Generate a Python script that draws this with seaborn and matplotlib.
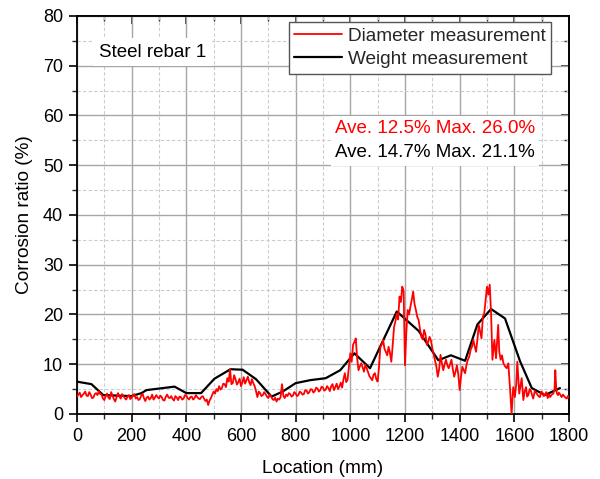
import numpy as np
import pandas as pd
import matplotlib
matplotlib.use("Agg")
import matplotlib.pyplot as plt
import seaborn as sns
from matplotlib.ticker import MultipleLocator

# ---------------- data ----------------
# diameter measurement: 5 mm sampling up to 1480 mm, then irregular points
diam_loc_head = list(range(0, 1481, 5))
diam_val_head = [
    3.5, 3.9, 4.3, 3.4, 3.8, 4.1, 4.5, 3.7, 3.6, 4.4,
    3.9, 3.2, 3.3, 4.0, 4.2, 3.8, 4.6, 4.0, 3.9, 3.1,
    2.8, 3.6, 4.1, 3.3, 3.0, 4.4, 3.7, 3.0, 2.5, 3.4,
    4.2, 3.5, 3.1, 4.0, 3.6, 3.2, 2.9, 3.5, 3.8, 3.0,
    3.3, 3.8, 4.0, 3.1, 3.4, 2.8, 3.0, 3.7, 4.1, 3.2,
    2.6, 3.3, 3.5, 2.9, 3.2, 3.9, 2.9, 3.3, 3.8, 3.4,
    3.1, 3.7, 3.4, 2.8, 2.7, 3.5, 3.9, 3.3, 3.2, 3.6,
    3.0, 2.7, 3.6, 3.3, 2.8, 3.5, 3.4, 2.9, 3.1, 3.8,
    3.7, 3.2, 2.9, 3.4, 3.5, 2.9, 3.2, 3.8, 3.4, 3.1,
    3.0, 3.4, 3.6, 3.1, 2.6, 2.9, 1.8, 2.7, 3.2, 3.9,
    4.5, 4.1, 5.0, 4.6, 5.6, 4.9, 5.2, 6.1, 6.0, 5.4,
    7.2, 6.5, 9.0, 6.0, 6.2, 7.8, 7.0, 5.9, 6.4, 7.1,
    5.6, 6.3, 7.4, 6.1, 6.8, 7.5, 6.4, 5.8, 7.0, 6.2,
    5.6, 4.6, 3.4, 4.5, 4.2, 3.6, 3.8, 4.4, 4.0, 3.5,
    3.2, 3.9, 3.6, 3.0, 2.8, 3.3, 2.5, 3.1, 2.9, 3.4,
    6.0, 3.7, 3.2, 3.9, 3.6, 4.2, 4.0, 3.5, 3.7, 4.4,
    4.1, 3.6, 3.8, 4.5, 4.3, 3.9, 4.0, 4.8, 4.7, 4.1,
    4.4, 5.0, 4.9, 4.3, 4.6, 5.3, 5.1, 4.5, 4.8, 5.5,
    5.3, 4.7, 4.9, 5.6, 5.2, 4.6, 5.6, 6.0, 4.8, 5.4,
    6.1, 5.0, 5.5, 6.3, 5.3, 7.0, 8.2, 6.4, 6.9, 9.5,
    12.2, 10.5, 13.9, 14.5, 15.2, 11.2, 8.8, 9.6, 10.2, 9.4,
    8.5, 9.9, 9.2, 8.4, 7.6, 7.2, 6.8, 7.9, 8.2, 7.0,
    6.5, 9.5, 13.5, 14.0, 14.9, 13.1, 12.5, 11.8, 13.5, 12.3,
    10.5, 13.8, 17.5, 18.6, 20.2, 19.0, 23.6, 22.5, 25.6, 24.8,
    9.8, 16.5, 20.9, 20.0, 21.6, 23.0, 24.6, 22.1, 20.9, 19.5,
    18.9, 17.0, 15.5, 15.0, 16.9, 16.0, 13.9, 14.5, 15.5, 14.8,
    13.2, 12.0, 10.8, 9.5, 7.5, 9.0, 11.9, 10.2, 8.8, 10.0,
    10.9, 9.8, 9.2, 10.0, 10.9, 9.0, 7.5, 8.5, 9.8, 8.0,
    4.8, 7.5, 9.5, 8.8, 8.2, 9.9, 10.9, 11.5, 12.9, 13.5,
    14.9, 13.6, 12.5, 15.0, 17.9, 16.5, 15.2]
diam_loc_tail = [1485, 1490, 1495, 1500, 1505, 1510, 1515, 1520, 1527, 1533,
                 1541, 1545, 1550, 1555, 1560, 1566, 1572, 1578, 1584, 1590,
                 1596, 1602, 1607, 1611, 1618, 1622, 1627, 1633, 1638, 1643,
                 1647, 1651, 1656, 1660, 1665, 1669, 1675, 1682, 1688, 1694,
                 1698, 1703, 1708, 1712, 1717, 1722, 1727, 1731, 1737, 1743,
                 1747, 1750, 1753, 1756, 1760, 1763, 1768, 1773, 1778, 1782,
                 1787, 1792, 1796, 1800]
diam_val_tail = [19.6, 20.2, 22.9, 25.6, 24.0, 26.0, 20.2, 10.9, 14.9, 11.2,
                 17.9, 12.5, 10.9, 11.8, 10.2, 9.6, 9.2, 10.2, 5.4, 0.0,
                 5.4, 3.4, 6.0, 10.5, 4.1, 5.5, 7.2, 2.8, 4.6, 5.4,
                 3.5, 3.8, 5.0, 4.8, 3.8, 3.1, 4.6, 4.1, 3.6, 3.4,
                 4.5, 4.3, 3.6, 3.8, 4.4, 3.2, 4.0, 3.4, 3.9, 4.1,
                 5.0, 8.8, 5.5, 4.1, 3.8, 4.3, 3.9, 3.4, 3.9, 3.6,
                 3.3, 3.1, 3.6, 3.3]
diam_loc = diam_loc_head + diam_loc_tail
diam_val = diam_val_head + diam_val_tail

weight_loc = [0, 53, 96, 199, 236, 254, 357, 400, 454, 503, 562, 606, 655,
              712, 752, 800, 853, 910, 963, 1015, 1072, 1170, 1250, 1322,
              1368, 1420, 1465, 1515, 1566, 1621, 1664, 1712, 1767]
weight_val = [6.5, 6.0, 3.8, 3.6, 4.2, 4.8, 5.5, 4.2, 4.2, 7.1, 9.0, 8.9, 7.0,
              3.5, 4.5, 6.2, 6.8, 7.2, 8.8, 12.2, 9.2, 20.6, 16.7, 10.8,
              11.8, 10.7, 18.0, 21.1, 19.2, 10.6, 5.2, 3.8, 5.2]

legend_labels = ["Diameter measurement", "Weight measurement"]
sample_name = "Steel rebar 1"
stats_diam = "Ave. 12.5% Max. 26.0%"
stats_weight = "Ave. 14.7% Max. 21.1%"

df_d = pd.DataFrame({"Location (mm)": diam_loc, "Corrosion ratio (%)": diam_val})
df_w = pd.DataFrame({"Location (mm)": weight_loc, "Corrosion ratio (%)": weight_val})

# ---------------- style ----------------
sns.set_theme(style="white")
plt.rcParams["font.family"] = ["Liberation Sans", "DejaVu Sans"]
plt.rcParams["axes.linewidth"] = 1.3

fig = plt.figure(figsize=(6.0, 4.79), dpi=100)
ax = fig.add_axes([0.1283, 0.1357, 0.8200, 0.8309])

sns.lineplot(data=df_w, x="Location (mm)", y="Corrosion ratio (%)",
             ax=ax, color="black", linewidth=1.6, estimator=None,
             sort=False, label=legend_labels[1], zorder=3)
sns.lineplot(data=df_d, x="Location (mm)", y="Corrosion ratio (%)",
             ax=ax, color="#ff0000", linewidth=1.3, estimator=None,
             sort=False, label=legend_labels[0], zorder=4)

ax.set_xlim(0, 1800)
ax.set_ylim(0, 80)
ax.xaxis.set_major_locator(MultipleLocator(200))
ax.xaxis.set_minor_locator(MultipleLocator(100))
ax.yaxis.set_major_locator(MultipleLocator(10))
ax.yaxis.set_minor_locator(MultipleLocator(5))

ax.set_axisbelow(True)
ax.grid(which="major", color="#a6a6a6", linewidth=1.0, linestyle="-", zorder=0)
ax.grid(which="minor", color="#cccccc", linewidth=0.8, linestyle=(0, (3, 2)), zorder=0)

for s in ax.spines.values():
    s.set_color("black")
    s.set_linewidth(1.3)

ax.tick_params(which="major", direction="out", length=6, width=1.2,
               labelsize=13, pad=4, colors="black",
               bottom=True, left=True, top=False, right=False)
ax.tick_params(which="minor", direction="out", length=3.5, width=1.0,
               bottom=True, left=True, top=False, right=False)

# mirrored inward ticks on top and right
secx = ax.secondary_xaxis("top")
secx.xaxis.set_major_locator(MultipleLocator(200))
secx.xaxis.set_minor_locator(MultipleLocator(100))
secx.tick_params(which="major", direction="in", length=6, width=1.2, labeltop=False)
secx.tick_params(which="minor", direction="in", length=3.5, width=1.0)
secx.spines["top"].set_linewidth(1.3)
secy = ax.secondary_yaxis("right")
secy.yaxis.set_major_locator(MultipleLocator(10))
secy.yaxis.set_minor_locator(MultipleLocator(5))
secy.tick_params(which="major", direction="in", length=6, width=1.2, labelright=False)
secy.tick_params(which="minor", direction="in", length=3.5, width=1.0)
secy.spines["right"].set_linewidth(1.3)

ax.set_xlabel("Location (mm)", fontsize=13.7, labelpad=11, color="black")
ax.set_ylabel("Corrosion ratio (%)", fontsize=13.7, labelpad=7, color="black")

# legend (diameter first)
handles, labels = ax.get_legend_handles_labels()
order = [labels.index(legend_labels[0]), labels.index(legend_labels[1])]
leg = ax.legend([handles[i] for i in order], [labels[i] for i in order],
                loc="upper right", bbox_to_anchor=(0.9634, 0.985),
                borderaxespad=0, fontsize=13.7, frameon=True, fancybox=False,
                edgecolor="#555555", facecolor="white", framealpha=1,
                handlelength=2.5, handletextpad=0.3, labelspacing=0.3,
                borderpad=0.3)
leg.get_frame().set_linewidth(1.0)
leg.set_zorder(6)

ax.text(0.0447, 0.9095, sample_name, transform=ax.transAxes, fontsize=13.5,
        ha="left", va="center", color="black", zorder=6,
        bbox=dict(facecolor="white", edgecolor="none", pad=4))
ax.text(0.524, 0.717, stats_diam, transform=ax.transAxes, fontsize=13.5,
        ha="left", va="center", color="#ff0000", zorder=6,
        bbox=dict(facecolor="white", edgecolor="none", pad=3))
ax.text(0.524, 0.656, stats_weight, transform=ax.transAxes, fontsize=13.5,
        ha="left", va="center", color="black", zorder=6,
        bbox=dict(facecolor="white", edgecolor="none", pad=3))

fig.savefig("out.png", dpi=100)
